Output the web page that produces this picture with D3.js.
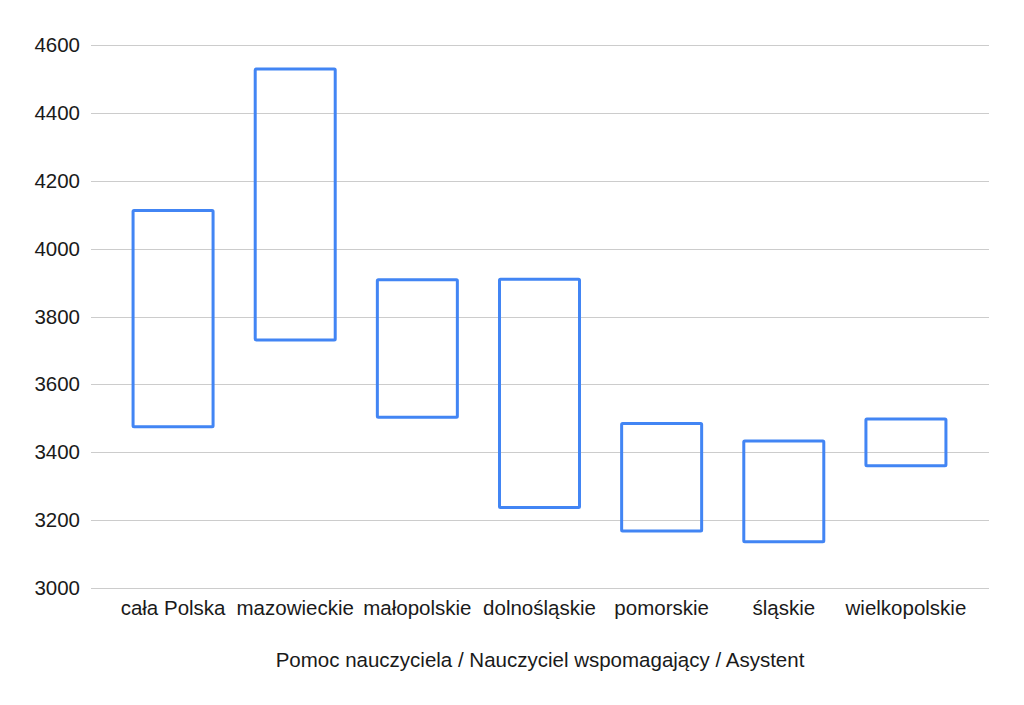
<!DOCTYPE html>
<html>
<head>
<meta charset="utf-8">
<script src="https://cdn.jsdelivr.net/npm/d3@7"></script>
<style>
  html, body { margin: 0; padding: 0; background: #fff; }
  svg { display: block; }
  text { font-family: "Liberation Sans", Arial, Helvetica, sans-serif; fill: #1a1a1a; }
</style>
</head>
<body>
<svg id="chart" width="1024" height="705"></svg>
<script>
const categories = ["cała Polska", "mazowieckie", "małopolskie", "dolnośląskie", "pomorskie", "śląskie", "wielkopolskie"];
const lowValues  = [3475, 3731, 3503, 3237, 3168, 3136, 3360];
const highValues = [4112, 4529, 3908, 3910, 3485, 3433, 3498];
const yTicks = [3000, 3200, 3400, 3600, 3800, 4000, 4200, 4400, 4600];
const xTitle = "Pomoc nauczyciela / Nauczyciel wspomagający / Asystent";

const svg = d3.select("#chart");
const gridLeft = 91, gridRight = 989;
const fontSize = 20.5;

const y = d3.scaleLinear().domain([3000, 4600]).range([588, 45]);
const x = d3.scaleBand().domain(categories).range([112, 967])
  .paddingInner(0.345).paddingOuter(0.1725);

// gridlines
svg.append("g").selectAll("line").data(yTicks).join("line")
  .attr("x1", gridLeft).attr("x2", gridRight)
  .attr("y1", d => Math.round(y(d)) + 0.5).attr("y2", d => Math.round(y(d)) + 0.5)
  .attr("stroke", "#cccccc").attr("stroke-width", 1);

// y axis labels
const yAxis = d3.axisLeft(y).tickValues(yTicks).tickSize(0).tickPadding(0).tickFormat(d3.format("d"));
const gy = svg.append("g").attr("transform", `translate(80,0)`).call(yAxis);
gy.select(".domain").remove();
gy.selectAll("text").attr("font-size", fontSize).attr("fill", "#1a1a1a")
  .style("font-family", '"Liberation Sans", Arial, sans-serif');

// x axis labels
const xAxis = d3.axisBottom(x).tickSize(0).tickPadding(0);
const gx = svg.append("g").attr("transform", `translate(0,600)`).call(xAxis);
gx.select(".domain").remove();
gx.selectAll("text").attr("font-size", fontSize).attr("fill", "#1a1a1a").attr("dy", "0.71em")
  .style("font-family", '"Liberation Sans", Arial, sans-serif');

// boxes
svg.append("g").selectAll("rect").data(categories).join("rect")
  .attr("x", d => x(d))
  .attr("width", x.bandwidth())
  .attr("y", (d, i) => y(highValues[i]))
  .attr("height", (d, i) => y(lowValues[i]) - y(highValues[i]))
  .attr("fill", "none")
  .attr("stroke", "#4285f4")
  .attr("stroke-width", 3)
  .attr("rx", 1);

// x title
svg.append("text").attr("x", 540).attr("y", 667)
  .attr("text-anchor", "middle").attr("font-size", fontSize).text(xTitle);
</script>
</body>
</html>
